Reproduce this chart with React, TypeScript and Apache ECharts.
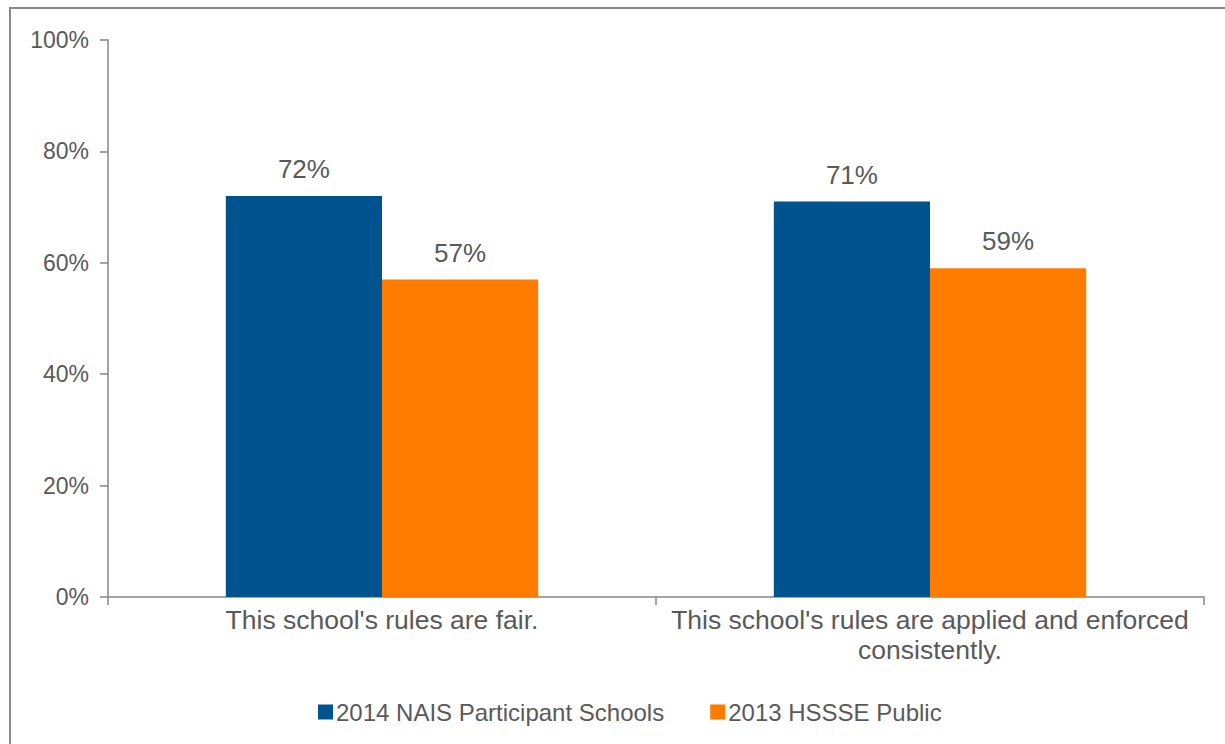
import React, { useEffect, useRef } from "react";
import * as echarts from "echarts";

const categories = [
  "This school's rules are fair.",
  "This school's rules are applied and enforced\nconsistently.",
];
const seriesNames = ["2014 NAIS Participant Schools", "2013 HSSSE Public"];
const naisValues = [72, 71];
const hssseValues = [57, 59];
const yTicks = { min: 0, max: 100, interval: 20 };

const FONT = "'Liberation Sans', Arial, sans-serif";
const TEXT = "#595959";
const AXIS = "#868686";

export default function App() {
  const ref = useRef<HTMLDivElement>(null);
  useEffect(() => {
    document.body.style.margin = "0";
    const chart = echarts.init(ref.current!, null, { renderer: "svg" });
    chart.setOption({
      animation: false,
      backgroundColor: "#ffffff",
      textStyle: { fontFamily: FONT, color: TEXT },
      graphic: [
        {
          type: "rect",
          shape: { x: 10, y: 8, width: 1240, height: 760 },
          style: { fill: "none", stroke: "#898989", lineWidth: 2 },
          silent: true,
        },
      ],
      grid: { left: 108, right: 21, top: 40, bottom: 147, containLabel: false },
      legend: {
        left: 313,
        top: 695,
        itemWidth: 15,
        itemHeight: 15,
        itemGap: 46,
        icon: "rect",
        textStyle: { fontFamily: FONT, fontSize: 24, color: TEXT, padding: [0, 0, 0, -2] },
        data: seriesNames,
      },
      xAxis: {
        type: "category",
        data: categories,
        axisLine: { lineStyle: { color: AXIS, width: 1.5 } },
        axisTick: { show: true, length: 8, lineStyle: { color: AXIS, width: 1.5 } },
        axisLabel: {
          fontFamily: FONT,
          fontSize: 26.5,
          color: TEXT,
          margin: 8,
          lineHeight: 30,
          interval: 0,
        },
      },
      yAxis: {
        type: "value",
        min: yTicks.min,
        max: yTicks.max,
        interval: yTicks.interval,
        splitLine: { show: false },
        axisLine: { show: true, lineStyle: { color: AXIS, width: 1.5 } },
        axisTick: { show: true, length: 8, lineStyle: { color: AXIS, width: 1.5 } },
        axisLabel: {
          fontFamily: FONT,
          fontSize: 23,
          color: TEXT,
          margin: 19,
          formatter: "{value}%",
        },
      },
      series: [
        {
          name: seriesNames[0],
          type: "bar",
          data: naisValues,
          barGap: "0%",
          barCategoryGap: "43%",
          itemStyle: { color: "#00538F" },
          label: {
            show: true,
            position: "top",
            distance: 14,
            fontFamily: FONT,
            fontSize: 26,
            color: TEXT,
            formatter: "{c}%",
          },
        },
        {
          name: seriesNames[1],
          type: "bar",
          data: hssseValues,
          barGap: "0%",
          barCategoryGap: "43%",
          itemStyle: { color: "#FF7C00" },
          label: {
            show: true,
            position: "top",
            distance: 14,
            fontFamily: FONT,
            fontSize: 26,
            color: TEXT,
            formatter: "{c}%",
          },
        },
      ],
    });
    return () => chart.dispose();
  }, []);
  return <div ref={ref} style={{ width: 1225, height: 744 }} />;
}
